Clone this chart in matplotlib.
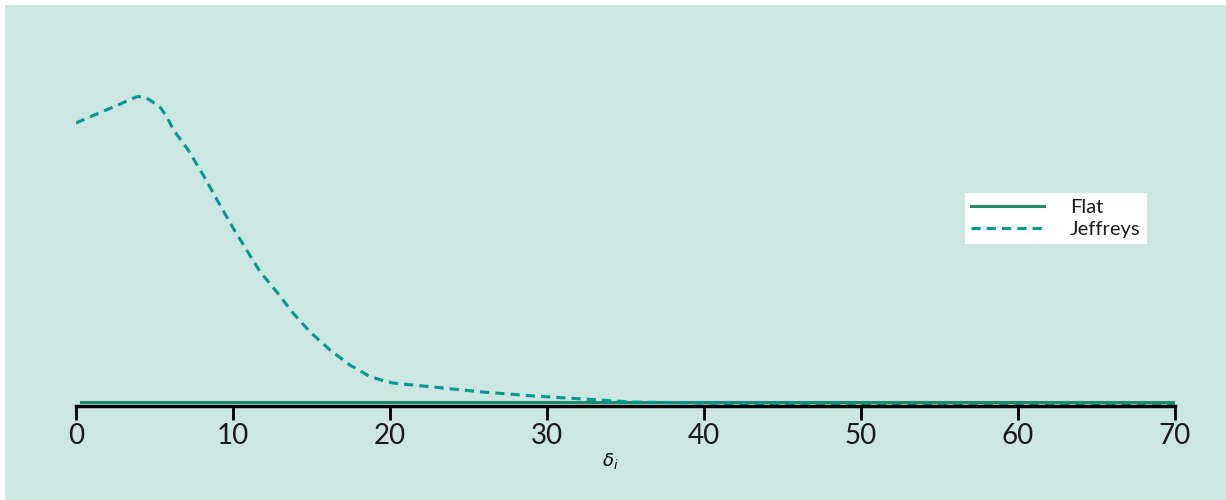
import matplotlib
matplotlib.use("Agg")
import matplotlib.pyplot as plt
from matplotlib.patches import Rectangle

# posterior for delta_i under two priors
flat_x = [0.3, 70]
flat_y = [0.0014, 0.0014]

jeff_x = [0, 1, 2, 3, 3.5, 3.9, 4.3, 4.6, 5.0, 5.4, 5.8, 6.2, 7.15, 8.1, 9.17, 10.0,
          10.87, 11.72, 12.78, 13.84, 14.9, 16.18, 17.45, 18.73, 19.6, 20.2,
          22.7, 25.9, 29.1, 32.3, 35.5, 45, 55, 70]
jeff_y = [0.1011, 0.1035, 0.1059, 0.1083, 0.1096, 0.1105, 0.1104, 0.1096, 0.1082,
          0.1064, 0.1032, 0.0986, 0.0914, 0.0825, 0.0718, 0.0636,
          0.0557, 0.0480, 0.0408, 0.0331, 0.0265, 0.0200, 0.0146, 0.0105, 0.0090, 0.0082,
          0.0068, 0.0050, 0.0036, 0.0025, 0.0014, 0.0007, 0.0004, 0.0002]

xticks = [0, 10, 20, 30, 40, 50, 60, 70]

plt.rcParams['font.family'] = ['Lato', 'DejaVu Sans']
bg = '#cce6e2'

fig = plt.figure(figsize=(12.26, 5.0), dpi=100, facecolor='white')
fig.patches.append(Rectangle((5 / 1226, 0), 1, 495 / 500, transform=fig.transFigure,
                             facecolor=bg, edgecolor='none', zorder=-10))
ax = fig.add_axes([76 / 1226, 94 / 500, (1175 - 76) / 1226, 336 / 500])
ax.set_facecolor('none')

ax.plot(flat_x, flat_y, color='#218a6b', lw=2.2, label='Flat')
ax.plot(jeff_x, jeff_y, color='#00998f', lw=2.2, ls=(0, (3, 2)), label='Jeffreys')

ax.set_xlim(0, 70)
ax.set_ylim(0, 0.12)
ax.set_xticks(xticks)
ax.tick_params(axis='x', length=10, width=2, labelsize=20, color='black',
               labelcolor='#1a1a1a', pad=2)
ax.set_yticks([])
for s in ['top', 'right', 'left']:
    ax.spines[s].set_visible(False)
ax.spines['bottom'].set_linewidth(2.5)

ax.set_xlabel(r'$\delta_i$', fontsize=13)
ax.xaxis.set_label_coords(0.486, -0.135)

leg = ax.legend(loc='upper left', bbox_to_anchor=(0.8, 0.665), fontsize=14.5,
                frameon=True, fancybox=False, framealpha=1, edgecolor='none',
                handlelength=3.6, handletextpad=1.3, borderpad=0.3, labelspacing=0.25)
for t in leg.get_texts():
    t.set_color('#1a1a1a')

fig.savefig('out.png', dpi=100, facecolor='white')
